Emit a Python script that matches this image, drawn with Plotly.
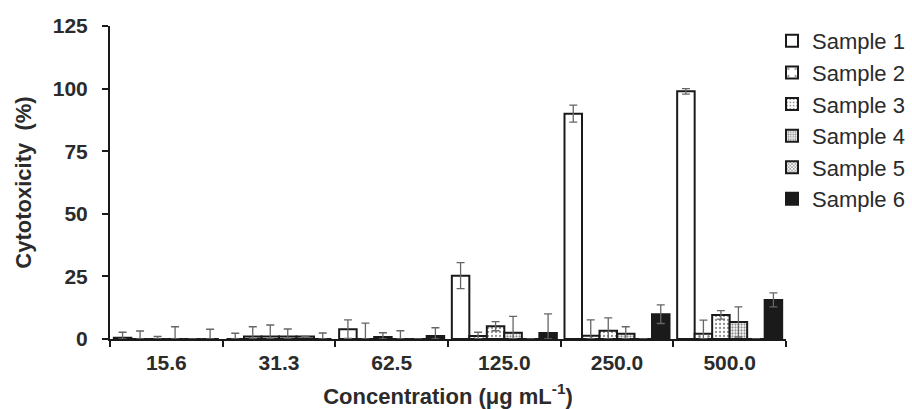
import plotly.graph_objects as go

categories = ["15.6", "31.3", "62.5", "125.0", "250.0", "500.0"]
series_names = ["Sample 1", "Sample 2", "Sample 3", "Sample 4", "Sample 5", "Sample 6"]

s1 = [0.5, 0.0, 3.9, 25.3, 90.0, 98.9]
s2 = [0.0, 1.0, 0.0, 1.2, 1.3, 2.1]
s3 = [0.0, 1.0, 0.8, 5.1, 3.3, 9.6]
s4 = [0.0, 1.0, 0.0, 2.5, 2.1, 6.8]
s5 = [0.0, 1.0, 0.0, 0.0, 0.0, 0.0]
s6 = [0.0, 0.0, 1.2, 2.4, 9.9, 15.6]

e1 = [2.2, 2.3, 3.7, 5.2, 3.4, 1.1]
e2 = [3.2, 3.9, 6.3, 1.5, 6.3, 5.4]
e3 = [1.0, 4.6, 1.7, 1.8, 5.1, 1.7]
e4 = [4.9, 3.0, 3.3, 6.5, 2.8, 6.0]
e5 = [0.0, 0.0, 0.0, 0.0, 0.0, 0.0]
e6 = [3.9, 2.4, 3.3, 7.6, 3.7, 2.8]

y_ticks = [0, 25, 50, 75, 100, 125]

values = [s1, s2, s3, s4, s5, s6]
errors = [e1, e2, e3, e4, e5, e6]

styles = [
    dict(color="white", pattern=dict(shape="")),
    dict(color="white", pattern=dict(shape=".", size=9, solidity=0.08, fgcolor="#222")),
    dict(color="white", pattern=dict(shape=".", size=4, solidity=0.25, fgcolor="#222")),
    dict(color="white", pattern=dict(shape=".", size=3, solidity=0.45, fgcolor="#222")),
    dict(color="white", pattern=dict(shape="x", size=3, solidity=0.5, fgcolor="#222")),
    dict(color="#1a1a1a", pattern=dict(shape="")),
]

FONT = "Liberation Sans, Arial, sans-serif"
TXT = "#2b2b2b"

fig = go.Figure()
for name, v, e, st in zip(series_names, values, errors, styles):
    minus = [min(a, b) for a, b in zip(e, v)]
    fig.add_trace(go.Bar(
        x=categories, y=v, name=name,
        marker=dict(color=st["color"], pattern=st["pattern"],
                    line=dict(color="#1a1a1a", width=2)),
        error_y=dict(type="data", array=e, arrayminus=minus, symmetric=False,
                     visible=True, color="#666666", thickness=1.3, width=4),
    ))

fig.update_layout(
    width=912, height=409,
    paper_bgcolor="white", plot_bgcolor="white",
    margin=dict(l=110, r=126, t=26, b=70, autoexpand=False),
    barmode="group", bargap=0.068, bargroupgap=0,
    font=dict(family=FONT, color=TXT),
    showlegend=True,
    legend=dict(xref="container", yref="container",
                x=0.8465, xanchor="left", y=0.951, yanchor="top",
                font=dict(family=FONT, size=22, color=TXT),
                itemwidth=30, bgcolor="rgba(0,0,0,0)"),
    xaxis=dict(
        type="category", tickson="boundaries", ticks="outside", ticklen=6,
        tickwidth=2, tickcolor="#1a1a1a", automargin=False,
        showline=True, linecolor="#1a1a1a", linewidth=2,
        showgrid=False, zeroline=False, ticklabelstandoff=4,
        tickfont=dict(family=FONT, size=21, color=TXT, weight="bold"),
        title=dict(text="Concentration (μg mL<sup>-1</sup>)",
                   font=dict(family=FONT, size=22, color=TXT, weight="bold")),
    ),
    yaxis=dict(
        range=[0, 125], tickvals=y_ticks, ticks="outside", ticklen=6,
        tickwidth=2, tickcolor="#1a1a1a", automargin=False,
        showline=True, linecolor="#1a1a1a", linewidth=2,
        showgrid=False, zeroline=False, ticklabelstandoff=10,
        tickfont=dict(family=FONT, size=21, color=TXT, weight="bold"),
        title=dict(text="Cytotoxicity  (%)",
                   font=dict(family=FONT, size=22, color=TXT, weight="bold")),
    ),
)

fig.write_html("out.html", config={"displayModeBar": False},
               post_script="document.body.style.margin='0px';document.body.style.overflow='hidden';")
